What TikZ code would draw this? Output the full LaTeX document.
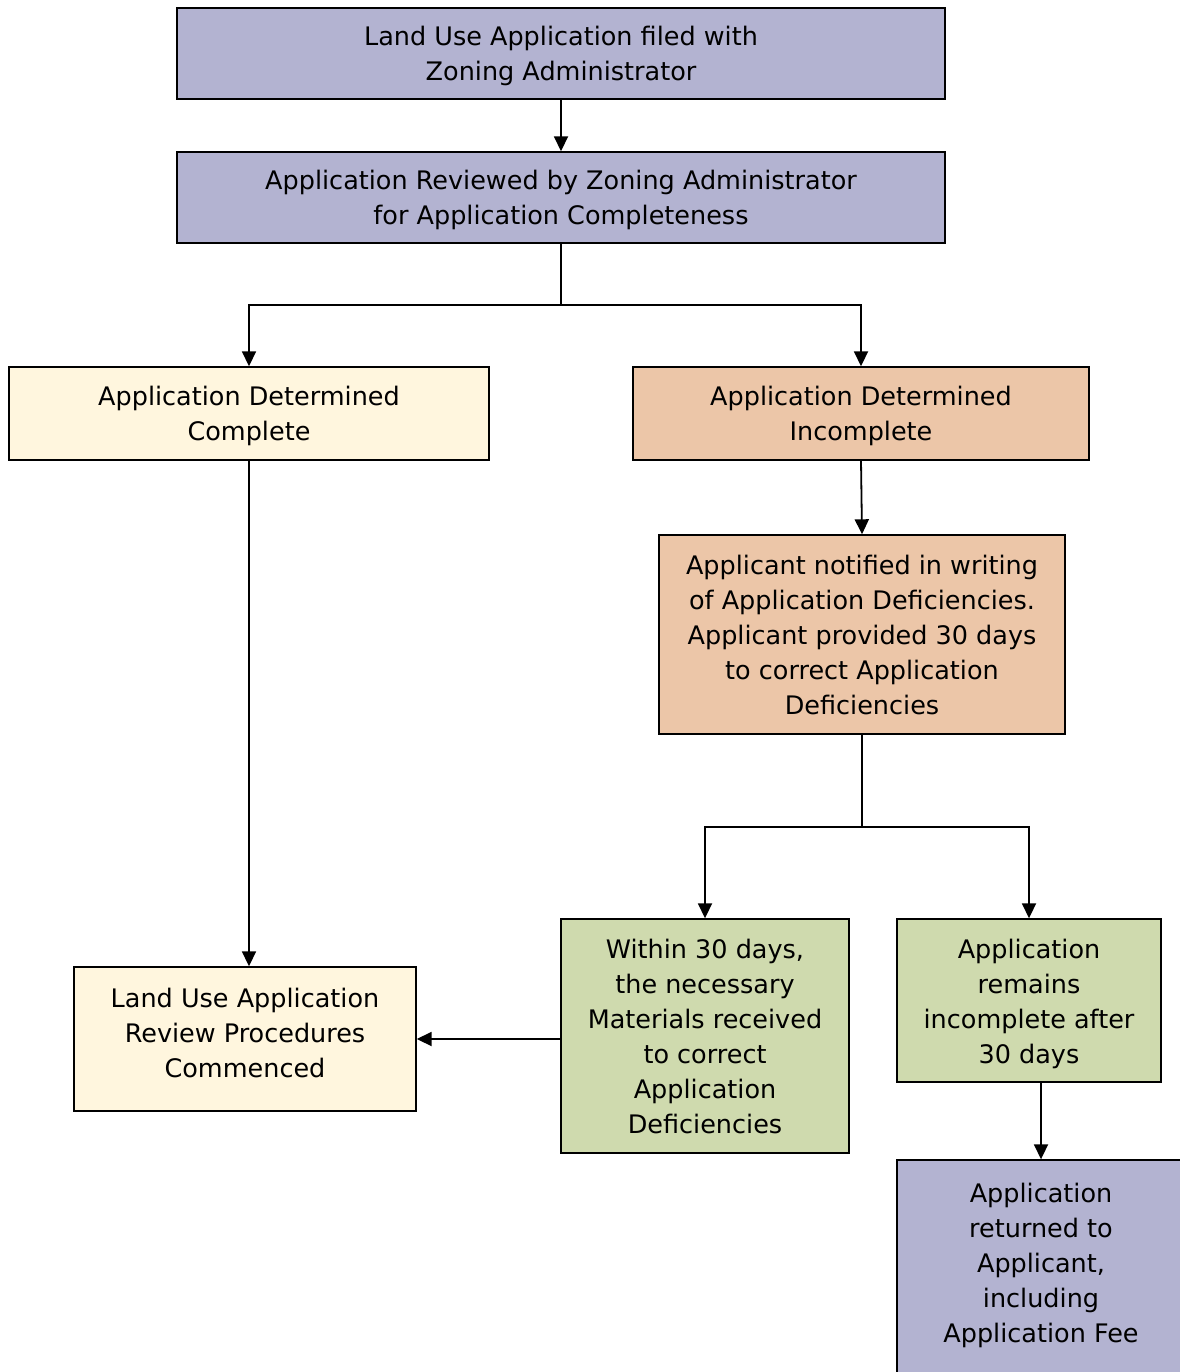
\documentclass[tikz,border=0pt]{standalone}
\usepackage{fontspec}
\setmainfont{DejaVu Sans}
\usetikzlibrary{arrows.meta}
\definecolor{lav}{RGB}{179,179,209}
\definecolor{cream}{RGB}{255,246,222}
\definecolor{peach}{RGB}{236,198,168}
\definecolor{sage}{RGB}{207,218,174}
\newcommand{\topstrut}[1]{\rule{0pt}{#1}}
\newcommand{\botstrut}[1]{\rule[-#1]{0pt}{0pt}}
\tikzset{
  box/.style={draw=black, line width=1.4pt, align=center, inner sep=0pt,
    font=\fontsize{25.5}{35}\selectfont},
  conn/.style={line width=1.8pt},
  arr/.style={conn, -{Triangle[length=15pt,width=14pt]}}
}
\begin{document}
\begin{tikzpicture}[x=1pt,y=-1pt]
\useasboundingbox (0,0) rectangle (1179,1372);
\fill[white] (-20,-20) rectangle (1240,1420);
\node[box, fill=lav, minimum width=768pt, minimum height=91pt] (b1) at (561,53.5)
  {\topstrut{25pt}Land Use Application filed with\\Zoning Administrator};
\node[box, fill=lav, minimum width=768pt, minimum height=91pt] (b2) at (561,197.5)
  {\topstrut{25pt}Application Reviewed by Zoning Administrator\\for Application Completeness};
\node[box, fill=cream, minimum width=480pt, minimum height=93pt] (b3) at (249,413.5)
  {\topstrut{25pt}Application Determined\\Complete};
\node[box, fill=peach, minimum width=456pt, minimum height=93pt] (b4) at (861,413.5)
  {\topstrut{25pt}Application Determined\\Incomplete};
\node[box, fill=peach, minimum width=406pt, minimum height=199pt] (b5) at (862,634.5)
  {Applicant notified in writing\\of Application Deficiencies.\\Applicant provided 30 days\\to correct Application\\Deficiencies};
\node[box, fill=sage, minimum width=288pt, minimum height=234pt] (b6) at (705,1036)
  {Within 30 days,\\the necessary\\Materials received\\to correct\\Application\\Deficiencies};
\node[box, fill=sage, minimum width=264pt, minimum height=163pt] (b7) at (1029,1000.5)
  {\topstrut{27pt}Application\\remains\\incomplete after\\30 days};
\node[box, fill=cream, minimum width=342pt, minimum height=144pt] (b8) at (245,1039)
  {Land Use Application\\Review Procedures\\Commenced\botstrut{12pt}};
\node[box, fill=lav, minimum width=316pt, minimum height=230pt] (b9) at (1055,1275)
  {\begin{tabular}{@{}c@{}}Application\\returned to\\Applicant,\\including\\Application Fee\botstrut{30pt}\end{tabular}\hspace*{28pt}};
\coordinate (j1) at (561,305);
\coordinate (j2) at (862,827);
\coordinate (j3) at (1041,1082);
\draw[arr] (b1.south) -- (b2.north);
\draw[conn] (b2.south) -- (j1);
\draw[arr] (j1) -| (b3.north);
\draw[arr] (j1) -| (b4.north);
\draw[arr] (b4.south) -- (b5.north);
\draw[conn] (b5.south) -- (j2);
\draw[arr] (j2) -| (b6.north);
\draw[arr] (j2) -| (b7.north);
\draw[arr] (b3.south) -- (b3.south |- b8.north);
\draw[arr] (b8.east -| b6.west) -- (b8.east);
\draw[arr] (j3) -- (j3 |- b9.north);
\end{tikzpicture}
\end{document}
